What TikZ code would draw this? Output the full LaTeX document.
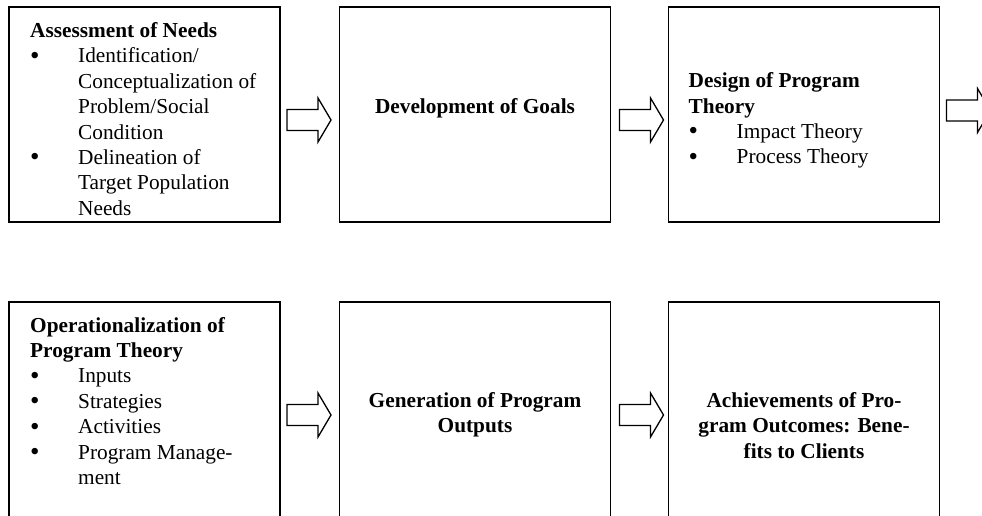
\documentclass[tikz,border=0pt]{standalone}
\usepackage{fontspec}
\setmainfont{Liberation Serif}
\usetikzlibrary{positioning,calc}
\newcommand\itm{\makebox[48pt][l]{\raisebox{-1.5pt}{\fontsize{27}{27}\selectfont\textbullet}}}
\newcommand\cont{\hspace*{48pt}}
\tikzset{
  stage/.style = {shape=rectangle, draw, line width=1.5pt, outer sep=0pt,
          minimum width=271pt, minimum height=215pt},
  txt/.style   = {inner sep=0pt, align=left,
          font=\fontsize{21.3}{25.4}\selectfont},
  head/.style  = {txt, align=center, font=\fontsize{21.3}{25.4}\selectfont\bfseries},
  blockarrow/.pic = {\draw[line width=1.3pt, fill=white]
          (0,-10.5) -- (31,-10.5) -- (31,-22) -- (44,0) -- (31,22)
          -- (31,10.5) -- (0,10.5) -- cycle;}
}

\begin{document}
\begin{tikzpicture}[x=1pt, y=-1pt]
  \useasboundingbox (0,0) rectangle (982,515);
  \node [stage] (b1) at (144.5,114.5) {};
  \node [stage, right=59.5pt of b1] (b2) {};
  \node [stage, right=58pt of b2] (b3) {};
  \node [stage, below=80pt of b1] (b4) {};
  \node [stage, right=59.5pt of b4] (b5) {};
  \node [stage, right=58pt of b5] (b6) {};

  \node [txt, anchor=north west] (t1) at ([shift={(21,12.5)}]b1.north west)
    {\strut\textbf{Assessment of Needs}\\
     \itm Identification/\\
     \cont Conceptualization of\\
     \cont Problem/Social\\
     \cont Condition\\
     \itm Delineation of\\
     \cont Target Population\\
     \cont Needs};
  \node [head, anchor=north] (t2) at ([yshift=-88.2]b2.north)
    {\strut Development of Goals};
  \node [txt, anchor=north west] (t3) at ([shift={(20,62.7)}]b3.north west)
    {\strut\textbf{Design of Program}\\
     \textbf{Theory}\\
     \itm Impact Theory\\
     \itm Process Theory};
  \node [txt, anchor=north west] (t4) at ([shift={(21,12.2)}]b4.north west)
    {\strut\textbf{Operationalization of}\\
     \textbf{Program Theory}\\
     \itm Inputs\\
     \itm Strategies\\
     \itm Activities\\
     \itm Program Manage-\\
     \cont ment};
  \node [head, anchor=north] (t5) at ([yshift=-87.2]b5.north)
    {\strut Generation of Program\\ Outputs};
  \node [head, anchor=north] (t6) at ([yshift=-87.5]b6.north)
    {\strut Achievements of Pro-\\ gram Outcomes: Bene-\\ fits to Clients};

  \pic (a1) at ($(b1.east)+(7,5.5)$) {blockarrow};
  \pic (a2) at ($(b2.east)+(9,5.5)$) {blockarrow};
  \pic (a3) at ($(b3.east)+(7,-4)$) {blockarrow};
  \pic (a4) at ($(b4.east)+(7,5.5)$) {blockarrow};
  \pic (a5) at ($(b5.east)+(9,5.5)$) {blockarrow};
\end{tikzpicture}
\end{document}
